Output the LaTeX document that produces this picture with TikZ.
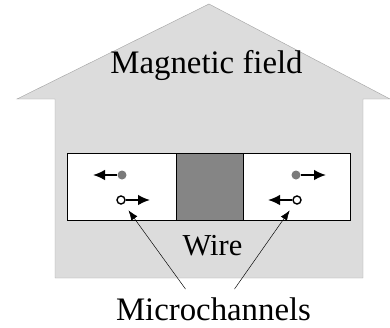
\documentclass[tikz,border=0pt]{standalone}
\usepackage{fontspec}
\setmainfont{Liberation Serif}
\usetikzlibrary{arrows.meta}

\definecolor{fieldgray}{HTML}{DCDCDC}
\definecolor{fieldline}{HTML}{A8A8A8}
\definecolor{wiregray}{HTML}{858585}
\definecolor{dotgray}{HTML}{7A7A7A}

\tikzset{
	channel/.style={draw, thick, fill=white, minimum height=2.01cm, inner sep=0pt},
	label/.style={anchor=base, inner sep=0pt, font=\fontsize{28}{30}\selectfont},
	fulldot/.style={circle, fill=dotgray, minimum size=0.27cm, inner sep=0pt},
	opendot/.style={circle, draw, line width=1.2pt, fill=white, minimum size=0.24cm, inner sep=0pt},
	move/.style={line width=1.5pt, -{Latex[length=0.36cm, width=0.32cm]}},
	pointer/.style={-{Latex[length=0.3cm, width=0.22cm]}, shorten >=0.24cm}
}

\begin{document}
\begin{tikzpicture}[x=0.03cm, y=-0.03cm]
				\useasboundingbox (0,0) rectangle (390,327);
				% magnetic field arrow
				\fill[fieldgray, draw=fieldline] (209,4) -- (390,99) -- (363,99) -- (363,278) -- (55,278) -- (55,99) -- (17,99) -- cycle;
				\node[label] (field) at (206.5,73) {Magnetic field};
				
				\node[channel, minimum width=3.27cm] (leftch) at (121.5,186.5) {};
				\node[channel, minimum width=3.21cm] (rightch) at (296.5,186.5) {};
				\node[channel, fill=wiregray, minimum width=2.01cm] (wire) at (209.5,186.5) {};
				\node[label, font=\fontsize{26}{28}\selectfont] (wirelabel) at (212.5,255) {Wire};
				
				\node[fulldot] (lfull) at (122,175) {};
				\node[opendot] (lopen) at (121,200) {};
				\node[fulldot] (rfull) at (296,175) {};
				\node[opendot] (ropen) at (297,200) {};
				\coordinate (lfullend) at (93,175);
				\coordinate (lopenend) at (150,200);
				\coordinate (rfullend) at (326,175);
				\coordinate (ropenend) at (268,200);
				\draw[move] (lfull) -- (lfullend);
				\draw[move] (lopen) -- (lopenend);
				\draw[move] (rfull) -- (rfullend);
				\draw[move] (ropen) -- (ropenend);
				
				\node[label] (micro) at (213.5,320) {Microchannels};
				\draw[pointer] ([shift={(-28,-8)}]micro.north) -- (lopen);
				\draw[pointer] ([shift={(21,-8)}]micro.north) -- (ropen);
			\end{tikzpicture}
\end{document}
